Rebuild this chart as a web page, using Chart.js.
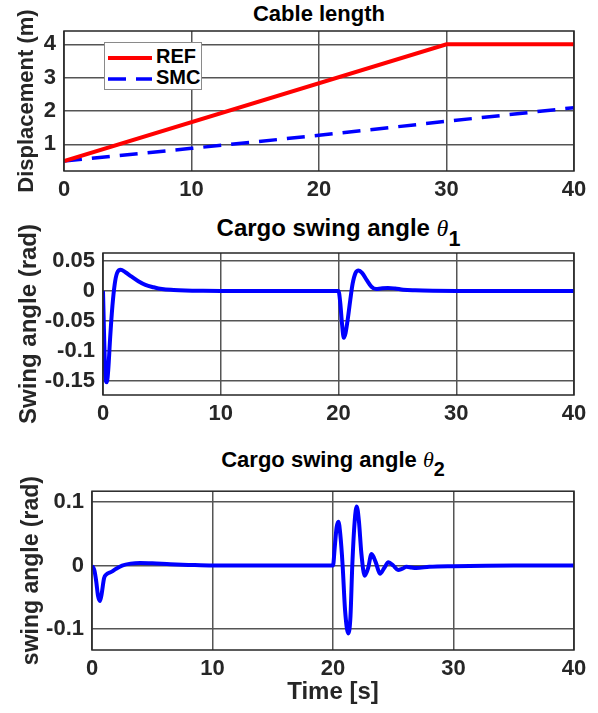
<!DOCTYPE html>
<html>
<head>
<meta charset="utf-8">
<script src="https://cdn.jsdelivr.net/npm/chart.js@4.4.1/dist/chart.umd.min.js"></script>
<style>
  body { margin: 0; background: #fff; width: 598px; height: 713px; position: relative; overflow: hidden; font-family: "Liberation Sans", Arial, sans-serif; }
  canvas { position: absolute; left: 0; }
  .ttl { position: absolute; text-align: center; font-weight: bold; color: #000; line-height: 1; white-space: nowrap; }
  .ttl i { font-family: "Liberation Serif", serif; font-weight: normal; }
  .ttl sub { font-size: 0.9em; position: relative; top: 0.2em; }
  #legend { position: absolute; left: 104px; top: 42px; width: 96px; height: 46px; border: 1px solid #8a8a8a; background: #fff; font-weight: bold; font-size: 20px; color: #000; }
  #legend div { position: absolute; left: 3px; height: 22px; line-height: 22px; }
  #legend svg { vertical-align: middle; margin-right: 4px; }
</style>
</head>
<body>
<div class="ttl" style="left:64px;width:510px;top:3px;font-size:22px;">Cable length</div>
<div class="ttl" style="left:103px;width:471px;top:216px;font-size:24px;">Cargo swing angle <i>θ</i><sub>1</sub></div>
<div class="ttl" style="left:92px;width:482px;top:449px;font-size:22px;">Cargo swing angle <i>θ</i><sub>2</sub></div>

<canvas id="c1" width="598" height="205" style="top:0px"></canvas>
<canvas id="c2" width="598" height="210" style="top:215px"></canvas>
<canvas id="c3" width="598" height="243" style="top:470px"></canvas>

<div id="legend">
  <div style="top:2px"><svg width="44" height="8"><line x1="0" y1="4" x2="44" y2="4" stroke="#ff0000" stroke-width="4"/></svg>REF</div>
  <div style="top:23px"><svg width="44" height="8"><line x1="0" y1="4" x2="44" y2="4" stroke="#0000ff" stroke-width="3.5" stroke-dasharray="18,10"/></svg>SMC</div>
</div>

<script>
// cable length
let refTime = [0, 30, 40];
let refLen = [0.5, 4, 4];
let smcTime = [0, 10, 20, 30, 40];
let smcLen = [0.5, 0.88, 1.27, 1.69, 2.1];

// swing angle theta1
let th1Time = [0, 0.1, 0.2, 0.32, 0.45, 0.6, 0.8, 1.0, 1.2, 1.5, 1.9, 2.4, 3.0, 3.6, 4.3, 5.0, 6.0, 7.0, 8.5, 10, 15, 20,
               20.15, 20.3, 20.45, 20.6, 20.8, 21.0, 21.2, 21.45, 21.7, 22.0, 22.4, 22.8, 23.2, 23.6, 24.2, 24.8, 25.5, 26.5, 28, 30, 35, 40];
let th1 = [0, -0.08, -0.14, -0.152, -0.13, -0.08, -0.025, 0.012, 0.03, 0.035, 0.031, 0.024, 0.016, 0.010, 0.006, 0.003, 0.0015, 0.0007, 0.0002, 0, 0, 0,
           -0.02, -0.055, -0.078, -0.07, -0.045, -0.015, 0.012, 0.03, 0.034, 0.03, 0.018, 0.007, 0.003, 0.004, 0.005, 0.004, 0.002, 0.001, 0.0003, 0, 0, 0];

// swing angle theta2
let th2Time = [0, 0.2, 0.35, 0.5, 0.66, 0.8, 1.0, 1.2, 1.6, 2.0, 2.5, 3.2, 4.0, 5.0, 6.5, 8.0, 10, 15, 20,
               20.15, 20.3, 20.45, 20.6, 20.8, 21.0, 21.27, 21.45, 21.6, 21.8, 21.97, 22.15, 22.35, 22.63, 22.9, 23.2, 23.55, 23.9, 24.25, 24.6, 25.0, 25.4, 25.75, 26.1, 26.5, 26.9, 28, 30, 35, 40];
let th2 = [0, -0.008, -0.025, -0.048, -0.056, -0.045, -0.02, -0.014, -0.01, -0.005, 0, 0.003, 0.004, 0.0035, 0.002, 0.001, 0, 0, 0,
           0.03, 0.06, 0.069, 0.05, 0, -0.07, -0.107, -0.08, 0, 0.07, 0.093, 0.07, 0.02, -0.016, -0.005, 0.018, 0.005, -0.013, -0.004, 0.005, 0, -0.007, -0.005, -0.002, -0.003, -0.004, -0.002, -0.001, 0, 0];

// tick labels
let timeTicks = [0, 10, 20, 30, 40];
let lenTicks = [1, 2, 3, 4];
let th1Ticks = [-0.15, -0.1, -0.05, 0, 0.05];
let th2Ticks = [-0.1, 0, 0.1];

Chart.defaults.font.family = '"Liberation Sans", Arial, sans-serif';
Chart.defaults.color = '#262626';

function pts(xs, ys) {
  return xs.map((x, i) => ({ x: x, y: ys[i] }));
}

/* black box round the axes like matlab */
const boxPlugin = {
  id: 'box',
  afterDraw(chart) {
    const a = chart.chartArea, ctx = chart.ctx;
    ctx.save();
    ctx.strokeStyle = '#262626';
    ctx.lineWidth = 1.5;
    ctx.strokeRect(a.left, a.top, a.right - a.left, a.bottom - a.top);
    ctx.restore();
  }
};

function makeChart(id, datasets, o) {
  const ctx = document.getElementById(id).getContext('2d');
  return new Chart(ctx, {
    type: 'line',
    data: { datasets: datasets },
    options: {
      responsive: false,
      animation: false,
      layout: { padding: { top: o.top, right: 24, left: 0, bottom: 0 } },
      plugins: { legend: { display: false }, tooltip: { enabled: false } },
      elements: { point: { radius: 0 } },
      scales: {
        x: {
          type: 'linear', min: 0, max: 40,
          afterBuildTicks: s => { s.ticks = timeTicks.map(v => ({ value: v })); },
          afterFit: s => { s.height = o.xh; },
          ticks: { font: { size: 22, weight: 'bold' }, padding: 6, maxRotation: 0 },
          grid: { color: '#555', lineWidth: 1.5, drawTicks: false },
          border: { display: false },
          title: o.xTitle ? { display: true, text: o.xTitle, font: { size: 24, weight: 'bold' }, padding: { top: 0, bottom: 6 } } : { display: false }
        },
        y: {
          type: 'linear', min: o.ymin, max: o.ymax,
          afterBuildTicks: s => { s.ticks = o.yticks.map(v => ({ value: v })); },
          afterFit: s => { s.width = o.yw; },
          ticks: { font: { size: 22, weight: 'bold' }, padding: 8, callback: v => String(v) },
          grid: { color: '#555', lineWidth: 1.5, drawTicks: false },
          border: { display: false },
          title: { display: true, text: o.yTitle, font: { size: o.yts, weight: 'bold' }, padding: { top: o.ytp, bottom: 0 } }
        }
      }
    },
    plugins: [boxPlugin]
  });
}

makeChart('c1', [
  { label: 'REF', data: pts(refTime, refLen), borderColor: '#ff0000', borderWidth: 4, tension: 0 },
  { label: 'SMC', data: pts(smcTime, smcLen), borderColor: '#0000ff', borderWidth: 3.5, borderDash: [18, 10], tension: 0 }
], { top: 31, xh: 34, yw: 64, ymin: 0.2, ymax: 4.4, yticks: lenTicks, yTitle: 'Displacement (m)', yts: 22, ytp: 14 });

makeChart('c2', [
  { label: 'theta1', data: pts(th1Time, th1), borderColor: '#0000ff', borderWidth: 4, cubicInterpolationMode: 'monotone' }
], { top: 38, xh: 30, yw: 103, ymin: -0.173, ymax: 0.063, yticks: th1Ticks, yTitle: 'Swing angle (rad)', yts: 24, ytp: 15 });

makeChart('c3', [
  { label: 'theta2', data: pts(th2Time, th2), borderColor: '#0000ff', borderWidth: 4, cubicInterpolationMode: 'monotone' }
], { top: 13, xh: 63, yw: 92, ymin: -0.133, ymax: 0.117, yticks: th2Ticks, yTitle: 'swing angle (rad)', yts: 23, ytp: 18, xTitle: 'Time [s]' });
</script>
</body>
</html>
